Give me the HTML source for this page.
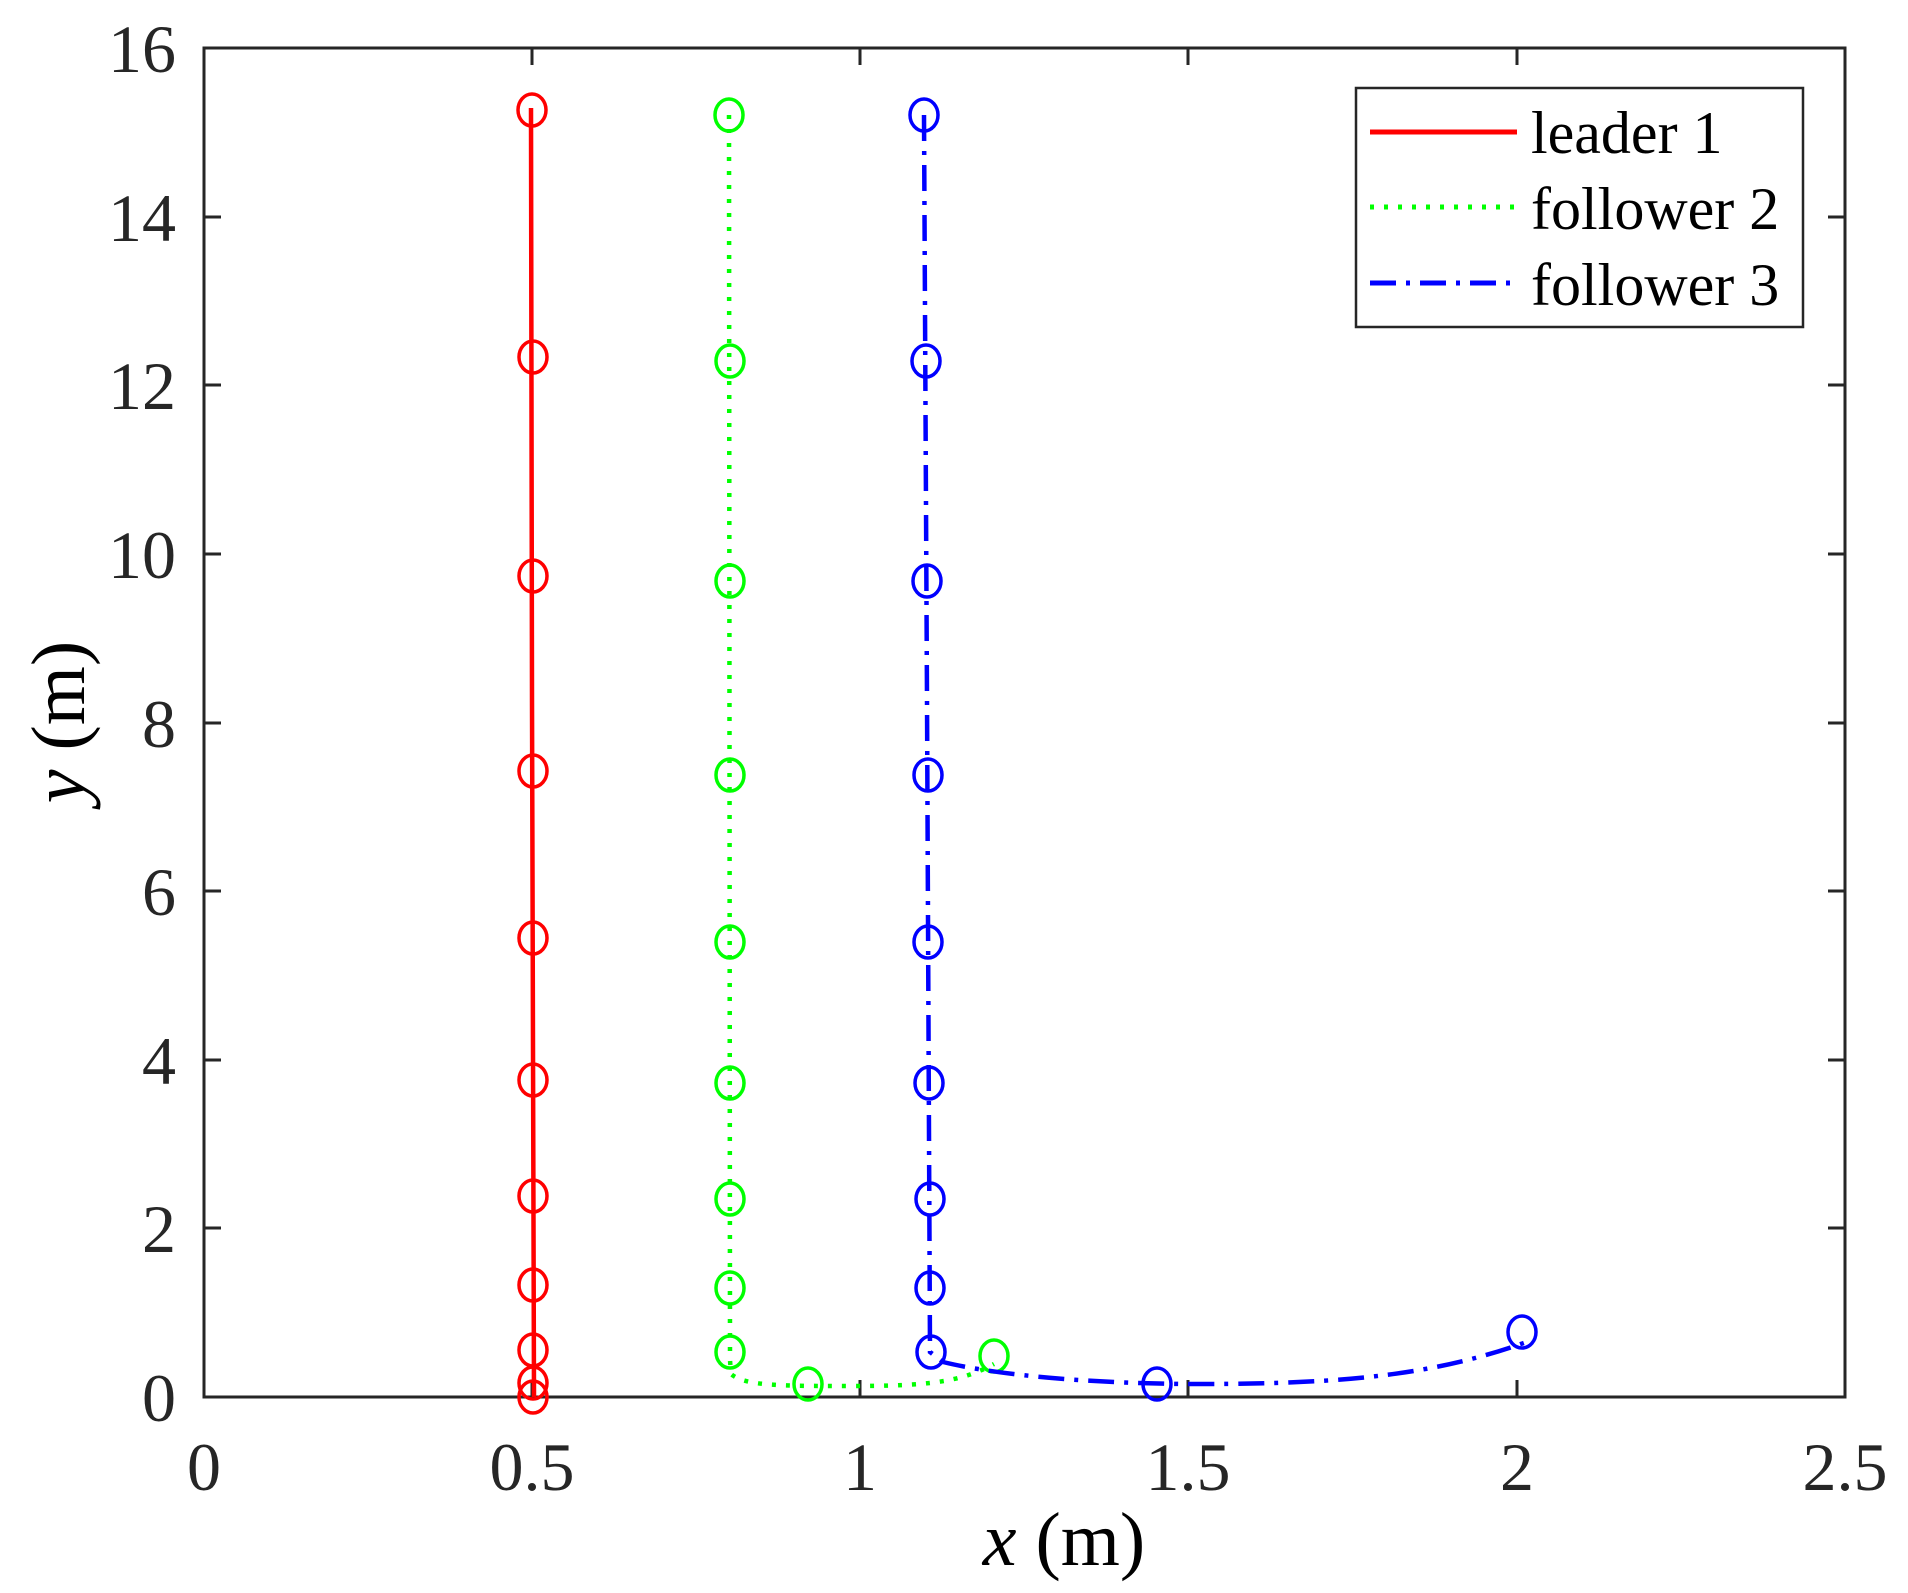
<!DOCTYPE html>
<html><head><meta charset="utf-8"><style>html,body{margin:0;padding:0;background:#fff}svg{display:block}</style></head>
<body>
<svg width="1908" height="1593" viewBox="0 0 1908 1593" xmlns="http://www.w3.org/2000/svg" font-family="Liberation Serif, serif">
<rect width="1908" height="1593" fill="#fff"/>
<g stroke="#262626" stroke-width="3" fill="none">
<rect x="204" y="48" width="1641" height="1349"/>
<path d="M532,1397v-17M860,1397v-17M1188,1397v-17M1517,1397v-17M532,48v17M860,48v17M1188,48v17M1517,48v17"/>
<path d="M204,1228h17M204,1060h17M204,891h17M204,723h17M204,554h17M204,385h17M204,217h17M1845,1228h-17M1845,1060h-17M1845,891h-17M1845,723h-17M1845,554h-17M1845,385h-17M1845,217h-17"/>
</g>
<g fill="#262626" font-size="68" text-anchor="end">
<text x="176" y="1421">0</text><text x="176" y="1252">2</text><text x="176" y="1084">4</text><text x="176" y="915">6</text><text x="176" y="747">8</text><text x="176" y="578">10</text><text x="176" y="409">12</text><text x="176" y="241">14</text><text x="176" y="72">16</text>
</g>
<g fill="#262626" font-size="68" text-anchor="middle">
<text x="204" y="1490">0</text><text x="532" y="1490">0.5</text><text x="860" y="1490">1</text><text x="1188" y="1490">1.5</text><text x="1517" y="1490">2</text><text x="1845" y="1490">2.5</text>
</g>
<text x="1064" y="1565" font-size="76" text-anchor="middle" fill="#000"><tspan font-style="italic">x</tspan> (m)</text>
<text transform="translate(84,722) rotate(-90)" font-size="76" text-anchor="middle" fill="#000"><tspan font-style="italic">y</tspan> (m)</text>

<path d="M531,108 L532,700 L534,1397" stroke="#f00" stroke-width="4.5" fill="none"/>
<g stroke="#f00" stroke-width="3.5" fill="none">
<ellipse cx="532" cy="110" rx="14" ry="16"/><ellipse cx="533" cy="357" rx="14" ry="16"/><ellipse cx="533" cy="576" rx="14" ry="16"/><ellipse cx="533" cy="771" rx="14" ry="16"/><ellipse cx="533" cy="938" rx="14" ry="16"/><ellipse cx="533" cy="1080" rx="14" ry="16"/><ellipse cx="533" cy="1196" rx="14" ry="16"/><ellipse cx="533" cy="1285" rx="14" ry="16"/><ellipse cx="533" cy="1350" rx="14" ry="16"/><ellipse cx="533" cy="1383" rx="14" ry="16"/><ellipse cx="533" cy="1397" rx="14" ry="16"/>
</g>
<path d="M729,115 L730,1360 L731,1374 C745,1386 780,1386 850,1386 C930,1386 960,1382 994,1364" stroke="#0f0" stroke-width="4.5" fill="none" stroke-dasharray="4 10"/>
<g stroke="#0f0" stroke-width="3.5" fill="none">
<ellipse cx="729" cy="115" rx="14" ry="16"/><ellipse cx="730" cy="361" rx="14" ry="16"/><ellipse cx="730" cy="581" rx="14" ry="16"/><ellipse cx="730" cy="775" rx="14" ry="16"/><ellipse cx="730" cy="942" rx="14" ry="16"/><ellipse cx="730" cy="1083" rx="14" ry="16"/><ellipse cx="730" cy="1199" rx="14" ry="16"/><ellipse cx="730" cy="1288" rx="14" ry="16"/><ellipse cx="730" cy="1352" rx="14" ry="16"/><ellipse cx="808" cy="1384" rx="14" ry="16"/><ellipse cx="994" cy="1356" rx="14" ry="16"/>
</g>
<path d="M924,115 L927,700 L930,1352 L943,1362 C1000,1376 1100,1384 1200,1384 C1350,1384 1440,1374 1532,1340" stroke="#00f" stroke-width="4.5" fill="none" stroke-dasharray="26 10 4 10"/>
<g stroke="#00f" stroke-width="3.5" fill="none">
<ellipse cx="924" cy="115" rx="14" ry="16"/><ellipse cx="926" cy="361" rx="14" ry="16"/><ellipse cx="927" cy="581" rx="14" ry="16"/><ellipse cx="928" cy="775" rx="14" ry="16"/><ellipse cx="928" cy="942" rx="14" ry="16"/><ellipse cx="929" cy="1083" rx="14" ry="16"/><ellipse cx="930" cy="1199" rx="14" ry="16"/><ellipse cx="930" cy="1288" rx="14" ry="16"/><ellipse cx="931" cy="1352" rx="14" ry="16"/><ellipse cx="1157" cy="1384" rx="14" ry="16"/><ellipse cx="1522" cy="1332" rx="14" ry="16"/>
</g>
<rect x="1356" y="88" width="447" height="239" fill="#fff" stroke="#262626" stroke-width="2.5"/>
<path d="M1370,132H1517" stroke="#f00" stroke-width="5"/>
<path d="M1370,207H1517" stroke="#0f0" stroke-width="5" stroke-dasharray="4 10"/>
<path d="M1370,283H1517" stroke="#00f" stroke-width="5" stroke-dasharray="26 10 4 10"/>
<g font-size="60" fill="#000">
<text x="1531" y="153">leader 1</text>
<text x="1531" y="229">follower 2</text>
<text x="1531" y="305">follower 3</text>
</g>
</svg>
</body></html>
